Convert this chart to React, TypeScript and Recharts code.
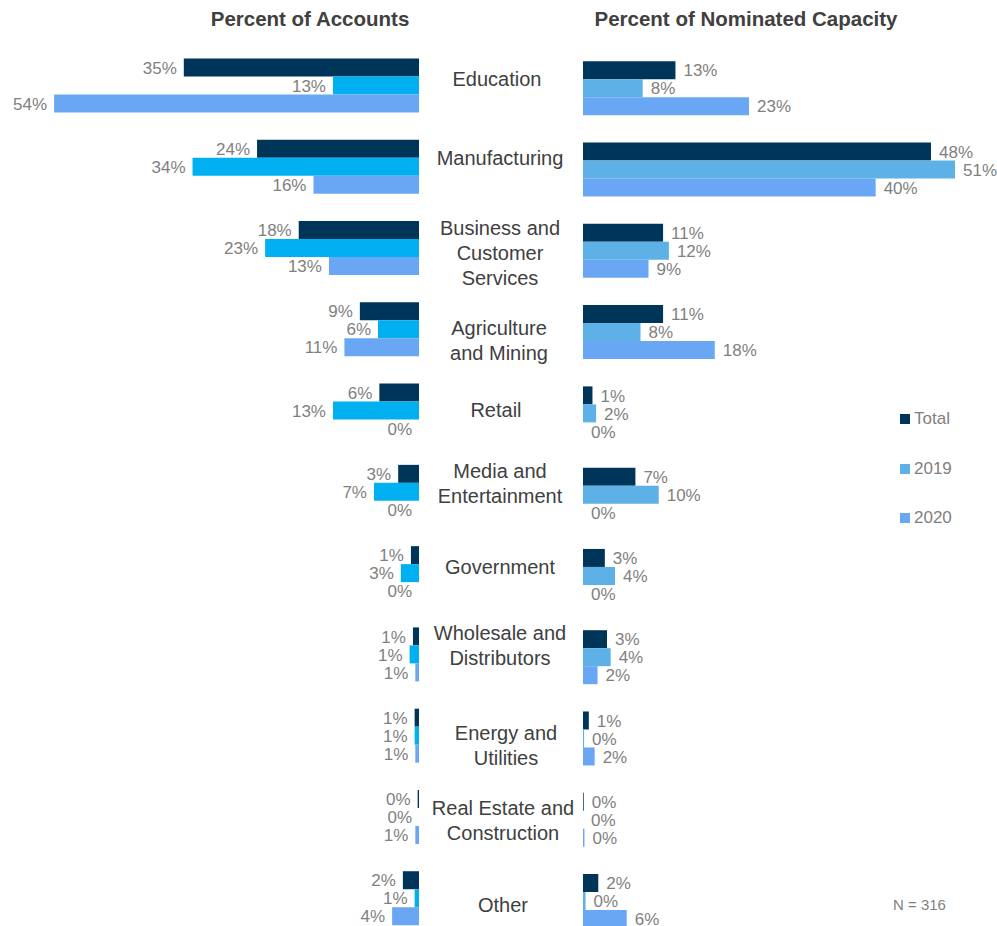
import React from 'react';
import { BarChart, Bar, XAxis, YAxis, LabelList } from 'recharts';

// industry categories, top to bottom
const categories = [
    'Education',
    'Manufacturing',
    'Business and Customer Services',
    'Agriculture and Mining',
    'Retail',
    'Media and Entertainment',
    'Government',
    'Wholesale and Distributors',
    'Energy and Utilities',
    'Real Estate and Construction',
    'Other',
];

// Percent of Accounts
const accountsTotal = [35.0, 24.1, 17.9, 8.8, 5.9, 3.1, 1.2, 0.9, 0.65, 0.2, 2.4];
const accounts2019 = [12.8, 33.7, 22.9, 6.1, 12.8, 6.7, 2.7, 1.4, 0.65, 0, 0.65];
const accounts2020 = [54.3, 15.7, 13.4, 11.1, 0, 0, 0, 0.55, 0.55, 0.55, 4.0];

// Percent of Nominated Capacity
const capacityTotal = [12.7, 47.8, 11.0, 11.0, 1.3, 7.2, 3.0, 3.3, 0.8, 0.1, 2.1];
const capacity2019 = [8.2, 51.1, 11.8, 7.9, 1.8, 10.4, 4.4, 3.8, 0.15, 0, 0.35];
const capacity2020 = [22.8, 40.2, 9.0, 18.1, 0, 0, 0, 2.0, 1.6, 0.2, 6.0];

const seriesNames = ['Total', '2019', '2020'];
const sampleNote = 'N = 316';

const accountsData = categories.map((name, i) => ({
    name,
    total: accountsTotal[i],
    y2019: accounts2019[i],
    y2020: accounts2020[i],
}));

const capacityData = categories.map((name, i) => ({
    name,
    total: capacityTotal[i],
    y2019: capacity2019[i],
    y2020: capacity2020[i],
}));

// how the category names wrap in the middle column
const labelLines: Record<string, string[]> = {
    'Business and Customer Services': ['Business and', 'Customer', 'Services'],
    'Agriculture and Mining': ['Agriculture', 'and Mining'],
    'Media and Entertainment': ['Media and', 'Entertainment'],
    'Wholesale and Distributors': ['Wholesale and', 'Distributors'],
    'Energy and Utilities': ['Energy and', 'Utilities'],
    'Real Estate and Construction': ['Real Estate and', 'Construction'],
};
// small nudges so the labels sit where they do in the original
const labelDx = [-3, 0, 0, -1, -4, 0, 0, 0, 6, 3, 3];
const labelDy = [-6, -9, 5, 11, 0, -8, -6, -9, 10, 4, 7];

const FONT = '"Liberation Sans", Arial, sans-serif';
const NAVY = '#00355A';
const CYAN = '#00B0F0';
const SKY = '#5EB1E6';
const BLUE = '#69A7F5';
const GREY = '#7F7F7F';

const pct = (v: any) => `${Math.round(Number(v))}%`;

const LeftLabel = (props: any) => {
    const { x, y, width, height, value } = props;
    const left = Math.min(x, x + width);
    return (
        <text x={left - 7} y={y + height / 2} dy="0.36em" textAnchor="end" fontSize={17} fill={GREY} fontFamily={FONT}>
            {pct(value)}
        </text>
    );
};

const RightLabel = (props: any) => {
    const { x, y, width, height, value } = props;
    const right = Math.max(x, x + width);
    return (
        <text x={right + 8} y={y + height / 2} dy="0.36em" textAnchor="start" fontSize={17} fill={GREY} fontFamily={FONT}>
            {pct(value)}
        </text>
    );
};

const CategoryTick = (props: any) => {
    const { y, payload } = props;
    const idx = payload.index ?? categories.indexOf(payload.value);
    const lines = labelLines[payload.value] || [payload.value];
    const cx = 500 + (labelDx[idx] || 0);
    const cy = y + (labelDy[idx] || 0) - ((lines.length - 1) * 25) / 2;
    return (
        <g>
            {lines.map((line: string, i: number) => (
                <text key={i} x={cx} y={cy + i * 25} dy="0.36em" textAnchor="middle" fontSize={20} fill="#404040" fontFamily={FONT}>
                    {line}
                </text>
            ))}
        </g>
    );
};

export default function App() {
    const legendColors = [NAVY, SKY, BLUE];
    return (
        <div style={{ position: 'absolute', left: 0, top: 0, width: 997, height: 926, overflow: 'hidden', background: '#fff', fontFamily: FONT }}>
            <div style={{ position: 'absolute', left: 160, width: 300, top: 7, textAlign: 'center', fontSize: 20.5, fontWeight: 700, color: '#404040' }}>
                Percent of Accounts
            </div>
            <div style={{ position: 'absolute', left: 546, width: 400, top: 7, textAlign: 'center', fontSize: 20.5, fontWeight: 700, color: '#404040' }}>
                Percent of Nominated Capacity
            </div>

            <div style={{ position: 'absolute', left: 0, top: 0 }}>
                <BarChart
                    width={583}
                    height={945}
                    data={accountsData}
                    layout="vertical"
                    barSize={18}
                    barGap={0}
                    margin={{ top: 44.5, right: 0, bottom: 6.5, left: 15.8 }}
                >
                    <XAxis type="number" domain={[0, 60]} reversed hide />
                    <YAxis
                        type="category"
                        dataKey="name"
                        orientation="right"
                        width={164}
                        axisLine={false}
                        tickLine={false}
                        interval={0}
                        tick={<CategoryTick />}
                    />
                    <Bar dataKey="total" name={seriesNames[0]} fill={NAVY} minPointSize={0.01} isAnimationActive={false}>
                        <LabelList dataKey="total" content={<LeftLabel />} />
                    </Bar>
                    <Bar dataKey="y2019" name={seriesNames[1]} fill={CYAN} minPointSize={0.01} isAnimationActive={false}>
                        <LabelList dataKey="y2019" content={<LeftLabel />} />
                    </Bar>
                    <Bar dataKey="y2020" name={seriesNames[2]} fill={BLUE} minPointSize={0.01} isAnimationActive={false}>
                        <LabelList dataKey="y2020" content={<LeftLabel />} />
                    </Bar>
                </BarChart>
            </div>

            <div style={{ position: 'absolute', left: 0, top: 0 }}>
                <BarChart
                    width={997}
                    height={945}
                    data={capacityData}
                    layout="vertical"
                    barSize={18}
                    barGap={0}
                    margin={{ top: 47.3, right: 13.6, bottom: 3.7, left: 583 }}
                >
                    <XAxis type="number" domain={[0, 55]} hide />
                    <YAxis type="category" dataKey="name" hide />
                    <Bar dataKey="total" name={seriesNames[0]} fill={NAVY} minPointSize={0.01} isAnimationActive={false}>
                        <LabelList dataKey="total" content={<RightLabel />} />
                    </Bar>
                    <Bar dataKey="y2019" name={seriesNames[1]} fill={SKY} minPointSize={0.01} isAnimationActive={false}>
                        <LabelList dataKey="y2019" content={<RightLabel />} />
                    </Bar>
                    <Bar dataKey="y2020" name={seriesNames[2]} fill={BLUE} minPointSize={0.01} isAnimationActive={false}>
                        <LabelList dataKey="y2020" content={<RightLabel />} />
                    </Bar>
                </BarChart>
            </div>

            {/* legend */}
            <div style={{ position: 'absolute', left: 900, top: 407 }}>
                {seriesNames.map((s, i) => (
                    <div key={s} style={{ display: 'flex', alignItems: 'center', height: 24, marginBottom: i < 2 ? 25.5 : 0 }}>
                        <span style={{ width: 10, height: 10, background: legendColors[i], display: 'inline-block', marginRight: 4 }} />
                        <span style={{ fontSize: 17, color: GREY }}>{s}</span>
                    </div>
                ))}
            </div>

            <div style={{ position: 'absolute', left: 893, top: 896, fontSize: 15, color: GREY }}>{sampleNote}</div>
        </div>
    );
}
